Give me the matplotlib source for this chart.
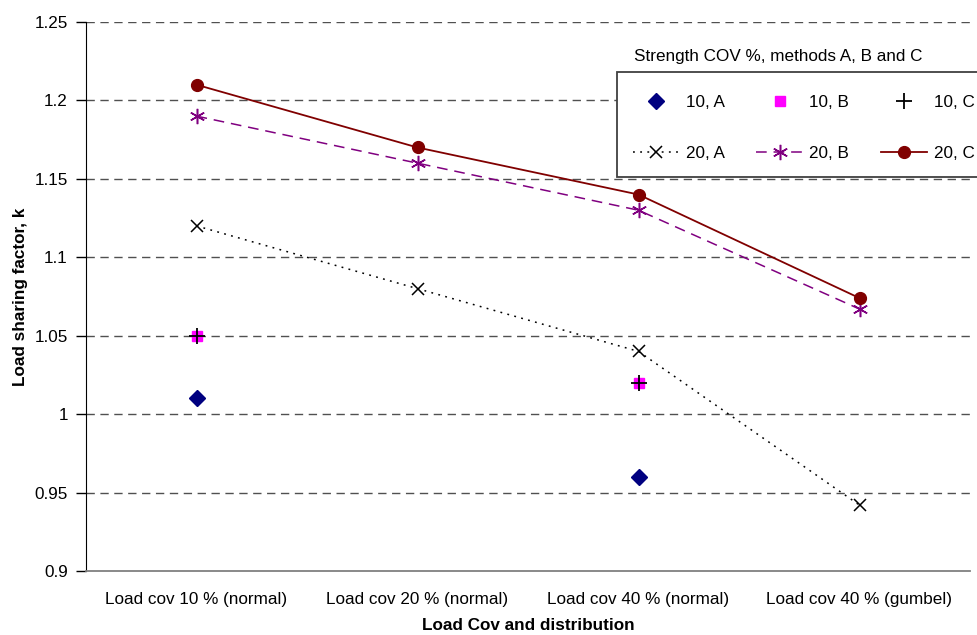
import matplotlib

matplotlib.use("Agg")
import matplotlib.pyplot as plt
import numpy as np
from matplotlib.patches import Rectangle

plt.rcParams["font.family"] = ["Liberation Sans", "DejaVu Sans"]

categories = [
    "Load cov 10 % (normal)",
    "Load cov 20 % (normal)",
    "Load cov 40 % (normal)",
    "Load cov 40 % (gumbel)",
]
nan = np.nan
k_10a = [1.01, nan, 0.96, nan]
k_10b = [1.05, nan, 1.02, nan]
k_10c = [1.05, nan, 1.02, nan]
k_20a = [1.12, 1.08, 1.04, 0.942]
k_20b = [1.19, 1.16, 1.13, 1.067]
k_20c = [1.21, 1.17, 1.14, 1.074]
y_ticks = [0.9, 0.95, 1.0, 1.05, 1.1, 1.15, 1.2, 1.25]
y_tick_labels = ["0.9", "0.95", "1", "1.05", "1.1", "1.15", "1.2", "1.25"]

W, H = 977, 635
fig = plt.figure(figsize=(W / 100, H / 100), dpi=100)
ax = fig.add_axes([86 / W, 1 - 571 / H, 884 / W, 549 / H])

x = np.arange(len(categories))
fs = 12.3

for yv in y_ticks[1:]:
    ax.axhline(yv, color="#505050", lw=1.0, dashes=(6, 4), zorder=1)

h10a, = ax.plot(x, k_10a, ls="none", marker="D", ms=8, color="#000080", zorder=3)
h10b, = ax.plot(x, k_10b, ls="none", marker="s", ms=7, color="#FF00FF", zorder=3)
h10c, = ax.plot(x, k_10c, ls="none", marker="+", ms=11, mew=1.3, color="black", zorder=4)
h20a, = ax.plot(x, k_20a, color="black", lw=1.1, dashes=(1.2, 3.5), marker="x",
                ms=9, mew=1.1, zorder=3)
h20b, = ax.plot(x, k_20b, color="#800080", lw=1.1, dashes=(7, 4.5), marker=(6, 2, 0),
                ms=11, mew=1.1, zorder=3)
h20c, = ax.plot(x, k_20c, color="#800000", lw=1.3, marker="o", ms=8.5, zorder=3)

ax.set_xlim(-0.5, len(categories) - 0.5)
ax.set_ylim(0.9, 1.25)
ax.set_yticks(y_ticks)
ax.set_yticklabels(y_tick_labels, fontsize=fs)
ax.set_xticks(x)
ax.set_xticklabels(categories, fontsize=fs)
ax.tick_params(axis="x", length=0, pad=15)
ax.tick_params(axis="y", length=7, width=1, direction="out", pad=6)

for side in ("top", "right"):
    ax.spines[side].set_visible(False)
ax.spines["left"].set_color("black")
ax.spines["bottom"].set_color("#808080")
ax.spines["bottom"].set_linewidth(1.3)

ax.set_xlabel("Load Cov and distribution", fontsize=fs, fontweight="bold", labelpad=8)
ax.set_ylabel("Load sharing factor, k", fontsize=fs, fontweight="bold", labelpad=5)

# legend box drawn separately so its size doesn't depend on the legend padding
box = Rectangle((617 / W, 1 - 177 / H), 370 / W, 105 / H, transform=fig.transFigure,
                facecolor="white", edgecolor="#404040", lw=1.3, clip_on=False, zorder=4)
ax.add_patch(box)

leg = ax.legend(
    [h10a, h20a, h10b, h20b, h10c, h20c],
    ["10, A", "20, A", "10, B", "20, B", "10, C", "20, C"],
    ncol=3,
    loc="upper left",
    bbox_to_anchor=(633 / W, 1 - 95 / H),
    bbox_transform=fig.transFigure,
    borderaxespad=0,
    borderpad=0,
    fontsize=fs,
    handlelength=2.7,
    handletextpad=0.4,
    columnspacing=1.85,
    labelspacing=2.12,
    frameon=False,
)
leg.set_zorder(5)

fig.text(634 / W, 1 - 56 / H, "Strength COV %, methods A, B and C",
         fontsize=fs, ha="left", va="center")

fig.savefig("out.png", dpi=100)
